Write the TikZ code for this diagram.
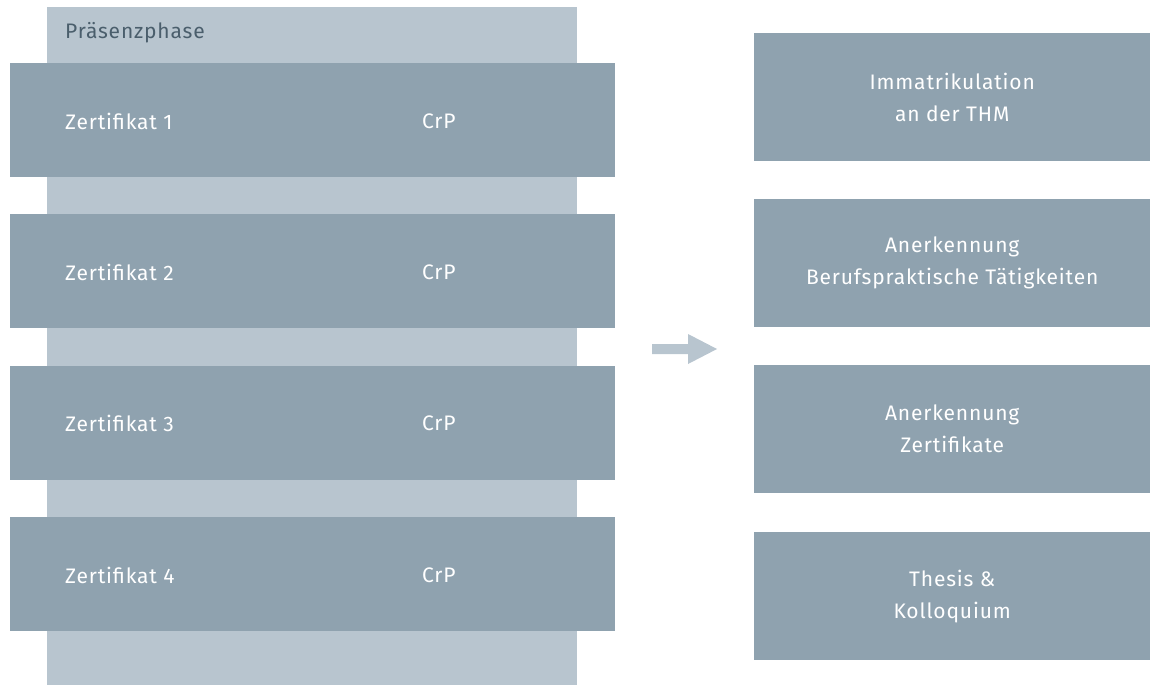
\documentclass[tikz,border=0pt]{standalone}
\usepackage{fontspec}
\setmainfont{Fira Sans}[LetterSpace=4]
\usetikzlibrary{positioning}

\definecolor{thmlight}{HTML}{B8C5CF}
\definecolor{thmdark}{HTML}{8FA2AF}
\definecolor{thmtext}{HTML}{4A5E6C}

\begin{document}
\begin{tikzpicture}[
  x=1pt, y=-1pt,
  phase/.style={fill=thmlight, inner sep=0pt, anchor=north west},
  zert/.style={fill=thmdark, inner sep=0pt, anchor=north west,
    minimum width=605pt, minimum height=114pt},
  stage/.style={fill=thmdark, inner sep=0pt, anchor=north west,
    minimum width=396pt, minimum height=128pt,
    text=white, align=center, font=\fontsize{21}{32}\selectfont},
  label/.style={text=white, anchor=west, inner sep=0pt, font=\fontsize{21}{23}\selectfont}]

    \useasboundingbox (0,0) rectangle (1150,685);

    % Praesenzphase background
    \node[phase, minimum width=530pt, minimum height=678pt] at (47,7) (bg) {};
    \node[anchor=west, inner sep=0pt, text=thmtext, font=\fontsize{21}{23}\selectfont]
      at (65,33) (title) {Präsenzphase};

    % certificates
    \node[zert] at (10,63) (z1) {};
    \node[zert] at (10,214) (z2) {};
    \node[zert] at (10,366) (z3) {};
    \node[zert] at (10,517) (z4) {};

    \node[label] at (65,121) (n1) {Zertifikat 1};
    \node[label] at (422,121) (c1) {CrP};
    \node[label] at (65,272) (n2) {Zertifikat 2};
    \node[label] at (422,272) (c2) {CrP};
    \node[label] at (65,423) (n3) {Zertifikat 3};
    \node[label] at (422,423) (c3) {CrP};
    \node[label] at (65,575) (n4) {Zertifikat 4};
    \node[label] at (422,575) (c4) {CrP};

    % arrow
    \coordinate (arr) at (652,349);
    \fill[thmlight] (arr) ++(0,-5) -- ++(36,0) -- ++(0,-10) -- ++(29,15)
      -- ++(-29,15) -- ++(0,-10) -- ++(-36,0) -- cycle;

    % right column
    \node[stage] at (754,33) (s1) {Immatrikulation\\an der THM};
    \node[stage] at (754,199) (s2) {Anerkennung\\Berufspraktische Tätigkeiten};
    \node[stage] at (754,365) (s3) {Anerkennung\\Zertifikate};
    \node[stage] at (754,532) (s4) {Thesis \&\\Kolloquium};

\end{tikzpicture}
\end{document}
